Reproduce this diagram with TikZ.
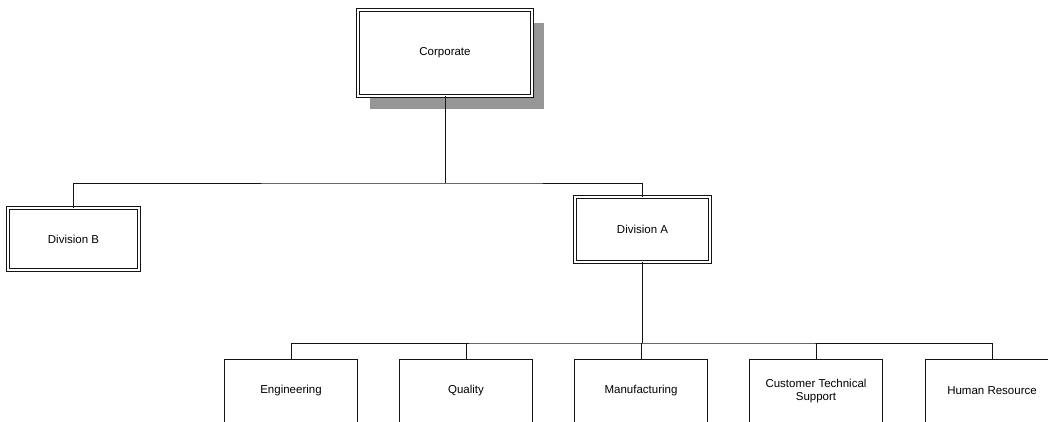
\documentclass[tikz,border=0pt]{standalone}
\usepackage{fontspec}
\setmainfont{Liberation Sans}
\usepackage{tikz}
\usetikzlibrary{positioning,calc,shadows}
\definecolor{orgline}{RGB}{20,20,20}
\definecolor{orgshade}{RGB}{150,150,150}

\tikzset{
  unitbox/.style={draw=orgline, line width=0.9pt, fill=white, align=center,
                  font=\fontsize{11.5}{13}\selectfont, inner sep=2pt},
  framedbox/.style={unitbox, double=white, double distance=1.6pt, line width=0.8pt},
  link/.style={draw=orgline, line width=1pt}
}

\begin{document}
\begin{tikzpicture}[x=1pt, y=-1pt]
        \useasboundingbox (0,0) rectangle (1048,421);
        \clip (0,0) rectangle (1048,421);
        % top level with its shadow
        \node[framedbox, minimum width=174pt, minimum height=86pt,
              drop shadow={shadow xshift=12pt, shadow yshift=-13pt, fill=orgshade, opacity=1}]
              (corp) at (445,53) {Corporate};
        \node[framedbox, minimum width=131pt, minimum height=62pt] (divB) at (73.5,239) {Division B};
        \node[framedbox, minimum width=135pt, minimum height=65pt] (divA) at (642.5,229.5) {Division A};
        \coordinate (bus1) at (445,183);
        \draw[link] (corp.south) -- (bus1);
        \draw[link] (divB.north) |- (bus1) -| (divA.north);
        % departments under division A
        \foreach \name/\cx/\label in {eng/291/Engineering, qual/466/Quality,
              manu/641/Manufacturing, cts/816/{Customer Technical\\Support},
              hr/992/Human Resource}
          \node[unitbox, minimum width=133pt, minimum height=64pt] (\name) at (\cx,391) {\label};
        \coordinate (bus2) at (642.5,343);
        \draw[link] (divA.south) -- (bus2);
        \draw[link] (eng.north) |- (bus2) -| (hr.north);
        \foreach \name in {qual,manu,cts}
          \draw[link] (\name.north) -- (\name.north |- bus2);
      \end{tikzpicture}
\end{document}
